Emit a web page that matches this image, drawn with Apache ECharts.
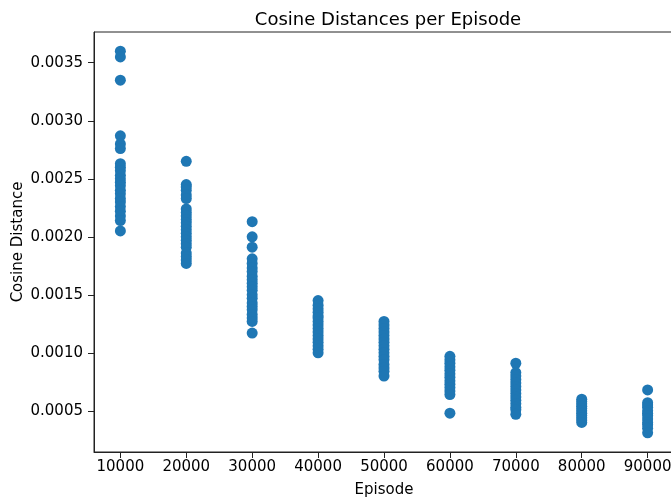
<!DOCTYPE html>
<html>
<head>
<meta charset="utf-8">
<script src="https://cdn.jsdelivr.net/npm/echarts@6/dist/echarts.min.js"></script>
<style>html,body{margin:0;padding:0;background:#fff}#c{width:671px;height:500px}</style>
</head>
<body>
<div id="c"></div>
<script>
const episodes = [10000, 20000, 30000, 40000, 50000, 60000, 70000, 80000, 90000];
const ep10000 = [0.00360, 0.00355, 0.00335, 0.00287, 0.00280, 0.00276, 0.00263, 0.00260, 0.00257, 0.00253, 0.00250, 0.00247, 0.00244, 0.00240, 0.00237, 0.00233, 0.00230, 0.00226, 0.00222, 0.00218, 0.00214, 0.00205];
const ep20000 = [0.00265, 0.00245, 0.00243, 0.00240, 0.00236, 0.00233, 0.00224, 0.00221, 0.00218, 0.00215, 0.00212, 0.00209, 0.00206, 0.00203, 0.00200, 0.00197, 0.00194, 0.00191, 0.00186, 0.00183, 0.00180, 0.00177];
const ep30000 = [0.00213, 0.00200, 0.00191, 0.00181, 0.00177, 0.00173, 0.00170, 0.00166, 0.00163, 0.00160, 0.00157, 0.00154, 0.00150, 0.00147, 0.00143, 0.00140, 0.00137, 0.00133, 0.00130, 0.00127, 0.00117];
const ep40000 = [0.00145, 0.00141, 0.00138, 0.00135, 0.00132, 0.00130, 0.00127, 0.00124, 0.00121, 0.00118, 0.00115, 0.00112, 0.00109, 0.00106, 0.00103, 0.00100];
const ep50000 = [0.00127, 0.00124, 0.00121, 0.00118, 0.00115, 0.00112, 0.00109, 0.00106, 0.00103, 0.00100, 0.00097, 0.00094, 0.00090, 0.00087, 0.00084, 0.00080];
const ep60000 = [0.00097, 0.00094, 0.00091, 0.00088, 0.00085, 0.00082, 0.00079, 0.00076, 0.00073, 0.00070, 0.00067, 0.00064, 0.00048];
const ep70000 = [0.00091, 0.00083, 0.00080, 0.00077, 0.00074, 0.00071, 0.00068, 0.00065, 0.00062, 0.00059, 0.00056, 0.00053, 0.00051, 0.00047];
const ep80000 = [0.00060, 0.00058, 0.00056, 0.00054, 0.00052, 0.00050, 0.00048, 0.00046, 0.00044, 0.00042, 0.00040];
const ep90000 = [0.00068, 0.00057, 0.00055, 0.00053, 0.00050, 0.00048, 0.00046, 0.00043, 0.00040, 0.00038, 0.00035, 0.00031];
const xTicks = [10000, 20000, 30000, 40000, 50000, 60000, 70000, 80000, 90000];
const yTicks = [0.0005, 0.0010, 0.0015, 0.0020, 0.0025, 0.0030, 0.0035];

const groups = [ep10000, ep20000, ep30000, ep40000, ep50000, ep60000, ep70000, ep80000, ep90000];
const points = [];
groups.forEach((g, i) => g.forEach(v => points.push([episodes[i], v])));

const font = 'DejaVu Sans';
const chart = echarts.init(document.getElementById('c'));
chart.setOption({
  animation: false,
  title: {
    text: 'Cosine Distances per Episode',
    left: 383, top: 6, textAlign: 'center',
    textStyle: {fontFamily: font, fontSize: 18, fontWeight: 'normal', color: '#000'}
  },
  grid: {left: 94, top: 32, right: -3, bottom: 48, containLabel: false, outerBoundsMode: 'none',
         show: true, borderColor: '#222', borderWidth: 1, backgroundColor: 'transparent'},
  xAxis: {
    type: 'value', min: 6000, max: 94000,
    name: 'Episode', nameLocation: 'middle', nameGap: 31, nameMoveOverlap: false,
    nameTextStyle: {fontFamily: font, fontSize: 15, color: '#000'},
    axisLine: {show: true, lineStyle: {color: '#222', width: 1}},
    axisTick: {show: true, length: 6, lineStyle: {color: '#222'}, customValues: xTicks},
    axisLabel: {fontFamily: font, fontSize: 15, color: '#000', margin: 8, customValues: xTicks, formatter: v => String(v)},
    splitLine: {show: false}
  },
  yAxis: {
    type: 'value', min: 0.000145, max: 0.003765,
    name: 'Cosine Distance', nameLocation: 'middle', nameGap: 68, nameRotate: 90, nameMoveOverlap: false,
    nameTextStyle: {fontFamily: font, fontSize: 15, color: '#000'},
    axisLine: {show: true, lineStyle: {color: '#222', width: 1}},
    axisTick: {show: true, length: 6, lineStyle: {color: '#222'}, customValues: yTicks},
    axisLabel: {fontFamily: font, fontSize: 15, color: '#000', margin: 11, customValues: yTicks, formatter: v => v.toFixed(4)},
    splitLine: {show: false}
  },
  series: [{
    type: 'scatter', data: points, symbolSize: 11,
    itemStyle: {color: '#1f77b4', opacity: 1}
  }]
});
</script>
</body>
</html>
